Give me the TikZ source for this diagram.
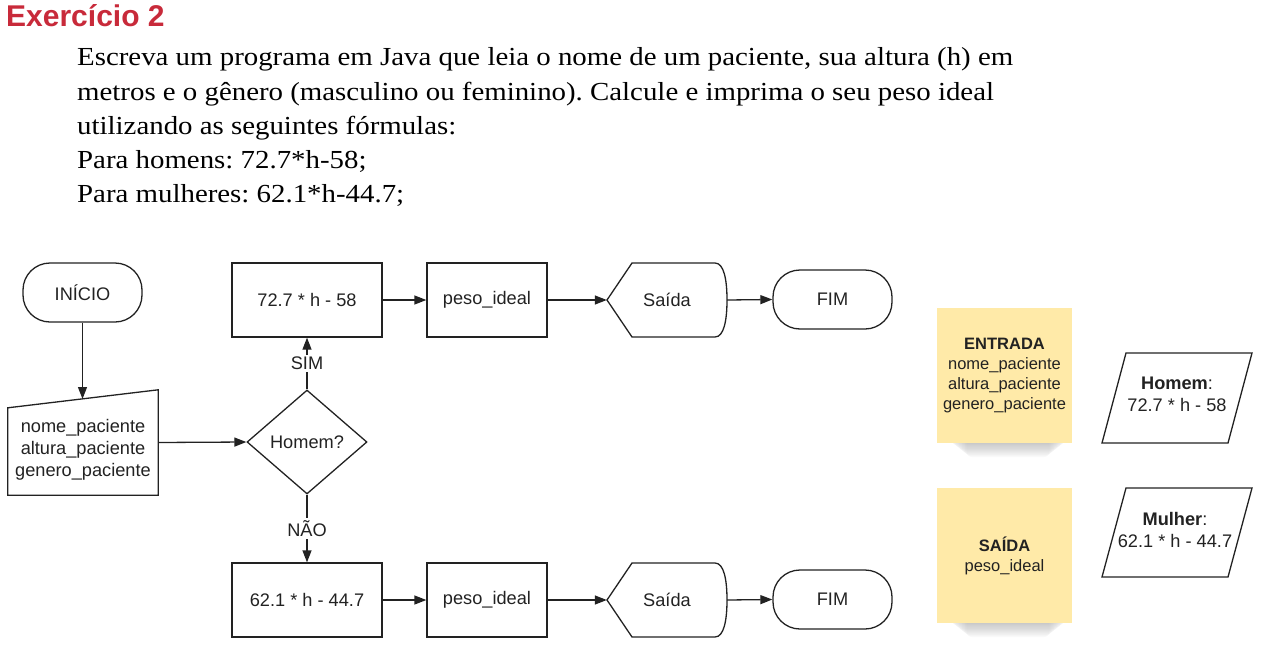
\documentclass[tikz,border=0pt]{standalone}
\usepackage{fontspec}
\setmainfont{Liberation Serif}
\setsansfont{Liberation Sans}
\newfontfamily\parafont[FakeStretch=1.11]{Liberation Serif}
\usetikzlibrary{shapes.geometric,arrows.meta,calc}
\definecolor{ttl}{RGB}{200,42,58}
\definecolor{notecol}{RGB}{255,234,168}
\definecolor{ln}{RGB}{34,34,34}
\frenchspacing
\begin{document}
\begin{tikzpicture}[x=1pt,y=-1pt,
  every node/.style={font=\sffamily\fontsize{18.2}{22}\selectfont, text=ln},
  frame/.style={draw=ln, line width=1.3pt},
  box/.style={frame, minimum width=150pt, minimum height=74pt, inner sep=0pt},
  pbox/.style={frame, minimum width=120pt, minimum height=74pt, inner sep=0pt},
  term/.style={frame, rounded corners=27pt, minimum width=119pt, minimum height=59pt, inner sep=0pt},
  blank/.style={inner sep=0pt, minimum width=#1},
  arr/.style={draw=ln, line width=1.3pt, -{Triangle[length=12pt,width=9pt]}},
  stick/.style={fill=notecol, minimum width=135pt, minimum height=135pt, inner sep=0pt, align=center, font=\sffamily\fontsize{16.5}{20}\selectfont},
  para/.style={anchor=base west, font=\parafont\fontsize{26}{30}\selectfont\frenchspacing, text=black, inner sep=0pt},
]
\useasboundingbox (0,0) rectangle (1274,645);

% title and statement
\node[anchor=base west, inner sep=0pt, font=\sffamily\bfseries\fontsize{30}{30}\selectfont, text=ttl] (title) at (6,27) {Exercício 2};
\node[para] (l1) at (77,65) {Escreva um programa em Java que leia o nome de um paciente, sua altura (h) em};
\node[para] (l2) at (77,100) {metros e o gênero (masculino ou feminino). Calcule e imprima o seu peso ideal};
\node[para] (l3) at (77,134) {utilizando as seguintes fórmulas:};
\node[para] (l4) at (77,168) {Para homens: 72.7*h-58;};
\node[para] (l5) at (77,202) {Para mulheres: 62.1*h-44.7;};

% start
\node[term] (ini) at (82.5,292.5) {INÍCIO};

% manual input
\node[inner sep=0pt, minimum width=150pt, minimum height=105pt] (inp) at (83,442.5) {};
\draw[frame] (inp.south west) -- (inp.south east) -- (inp.north east) -- ($(inp.north west)+(0,18)$) -- cycle;
\node[align=center] (inptxt) at (83,450) {nome\_paciente\\altura\_paciente\\genero\_paciente};
\coordinate (inptop) at (82.5,399);

% decision
\node[frame, diamond, aspect=1.15, minimum width=120pt, minimum height=104pt, inner sep=0pt] (dia) at (307,442) {Homem?};

% upper branch
\node[box] (b1) at (307,300) {72.7 * h - 58};
\node[pbox] (p1) at (487,300) {peso\_ideal};
\node[blank=120pt, minimum height=74pt] (s1) at (667,300) {Saída};
\draw[frame, shift={(s1.center)}] (-60,0) -- (-35,-37) -- (48,-37) .. controls (57,-37) and (60,-20) .. (60,0) .. controls (60,20) and (57,37) .. (48,37) -- (-35,37) -- cycle;
\node[term] (f1) at (832.5,299.5) {FIM};

% lower branch
\node[box] (b2) at (307,600) {62.1 * h - 44.7};
\node[pbox] (p2) at (487,600) {peso\_ideal};
\node[blank=120pt, minimum height=74pt] (s2) at (667,600) {Saída};
\draw[frame, shift={(s2.center)}] (-60,0) -- (-35,-37) -- (48,-37) .. controls (57,-37) and (60,-20) .. (60,0) .. controls (60,20) and (57,37) .. (48,37) -- (-35,37) -- cycle;
\node[term] (f2) at (832.5,599.5) {FIM};

% connectors
\draw[arr] (ini.south) -- (inptop);
\draw[arr] (inp.east) -- (dia.west);
\draw[arr] (dia.north) -- node[fill=white, inner sep=2pt] {SIM} (b1.south);
\draw[arr] (dia.south) -- node[fill=white, inner sep=2pt] {NÃO} (b2.north);
\draw[arr] (b1.east) -- (p1.west);
\draw[arr] (p1.east) -- (s1.west);
\draw[arr] (s1.east) -- (f1.west);
\draw[arr] (b2.east) -- (p2.west);
\draw[arr] (p2.east) -- (s2.west);
\draw[arr] (s2.east) -- (f2.west);

% sticky notes with soft shadows
\foreach \yy in {443,623}{
  \foreach \i in {0,...,11}{
    \fill[black, opacity=0.02, rounded corners=6pt] (950+1.5*\i,\yy-6) rectangle (1066-1.5*\i,\yy+1+1.2*\i);
  }
}
\node[stick] (n1) at (1004.5,375.5) {\textbf{ENTRADA}\\nome\_paciente\\altura\_paciente\\genero\_paciente};
\node[stick] (n2) at (1004.5,555.5) {\textbf{SAÍDA}\\peso\_ideal};

% parallelograms
\node[inner sep=0pt, minimum width=150pt, minimum height=90pt] (h1) at (1177,398) {};
\draw[frame, shift={(h1.center)}] (-51,-45) -- (75,-45) -- (51,45) -- (-75,45) -- cycle;
\node[align=center] (h1t) at (1177,394) {\textbf{Homem}:\\72.7 * h - 58};
\node[inner sep=0pt, minimum width=150pt, minimum height=89pt] (m1) at (1177,532.5) {};
\draw[frame, shift={(m1.center)}] (-51,-44.5) -- (75,-44.5) -- (51,44.5) -- (-75,44.5) -- cycle;
\node[align=center] (m1t) at (1175,530) {\textbf{Mulher}:\\62.1 * h - 44.7};
\end{tikzpicture}
\end{document}
